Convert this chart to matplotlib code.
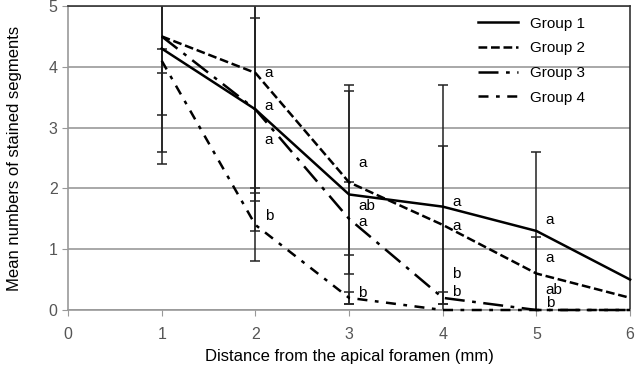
import matplotlib.pyplot as plt
import numpy as np

plt.rcParams['font.family'] = ['Liberation Sans', 'DejaVu Sans']

x = np.array([1, 2, 3, 4, 5, 6])

# means
g1 = np.array([4.3, 3.3, 1.9, 1.7, 1.3, 0.5])
g2 = np.array([4.5, 3.9, 2.1, 1.4, 0.6, 0.2])
g3 = np.array([4.5, 3.3, 1.5, 0.2, 0.0, 0.0])
g4 = np.array([4.1, 1.4, 0.2, 0.0, 0.0, 0.0])

# error bar half-lengths
e1 = np.array([1.1, 1.5, 1.8, 2.0, 1.3, 0])
e2 = np.array([1.9, 1.97, 1.5, 1.3, 0.6, 0])
e3 = np.array([2.1, 2.0, 0.6, 0.1, 0, 0])
e4 = np.array([0.2, 0.6, 0.1, 0, 0, 0])

names = ['Group 1', 'Group 2', 'Group 3', 'Group 4']
styles = ['-', (0, (3.5, 1.5)), (0, (8, 3, 1.5, 3)), (0, (4, 3, 1.5, 3))]

# significance letters
let_x = [2, 2, 2, 2, 3, 3, 3, 3, 4, 4, 4, 4, 5, 5, 5, 5]
let_y = [3.9, 3.35, 2.8, 1.55, 2.42, 1.71, 1.45, 0.28, 1.78, 1.38, 0.6, 0.3, 1.48, 0.86, 0.33, 0.11]
let_t = ['a', 'a', 'a', 'b', 'a', 'ab', 'a', 'b', 'a', 'a', 'b', 'b', 'a', 'a', 'ab', 'b']

fig = plt.figure(figsize=(6.38, 3.67), dpi=100)
ax = fig.add_axes([0.1066, 0.1553, 0.881, 0.8284])

for m, e in zip([g1, g2, g3, g4], [e1, e2, e3, e4]):
    k = e > 0
    ax.errorbar(x[k], m[k], yerr=e[k], fmt='none', ecolor='#222222',
                elinewidth=1.1, capsize=3.5, capthick=1.1)

for m, ls, nm in zip([g1, g2, g3, g4], styles, names):
    ax.plot(x, m, color='black', linestyle=ls, lw=1.8, label=nm,
            clip_on=False, zorder=3)

for tx, ty, t in zip(let_x, let_y, let_t):
    ax.text(tx + 0.1, ty, t, fontsize=11, va='center', ha='left')

ax.set_xlim(0, 6)
ax.set_ylim(0, 5)
ax.set_xticks(range(7))
ax.set_yticks(range(6))
ax.yaxis.grid(True, color='#999999', lw=1.2)
ax.set_axisbelow(True)
for s in ['left', 'bottom']:
    ax.spines[s].set_color('#999999')
    ax.spines[s].set_linewidth(1.2)
for s in ['top', 'right']:
    ax.spines[s].set_color('#333333')
    ax.spines[s].set_linewidth(1.2)
ax.tick_params(colors='#999999', labelcolor='#555555', labelsize=11.5, length=4)
ax.tick_params(axis='x', pad=8)

ax.set_xlabel('Distance from the apical foramen (mm)', fontsize=12, labelpad=5)
ax.set_ylabel('Mean numbers of stained segments', fontsize=12, labelpad=19)

leg = ax.legend(loc='upper left', frameon=False, fontsize=11, handlelength=2.6,
                labelspacing=0.7, bbox_to_anchor=(0.705, 1.01))

fig.savefig('out.png', dpi=100)
